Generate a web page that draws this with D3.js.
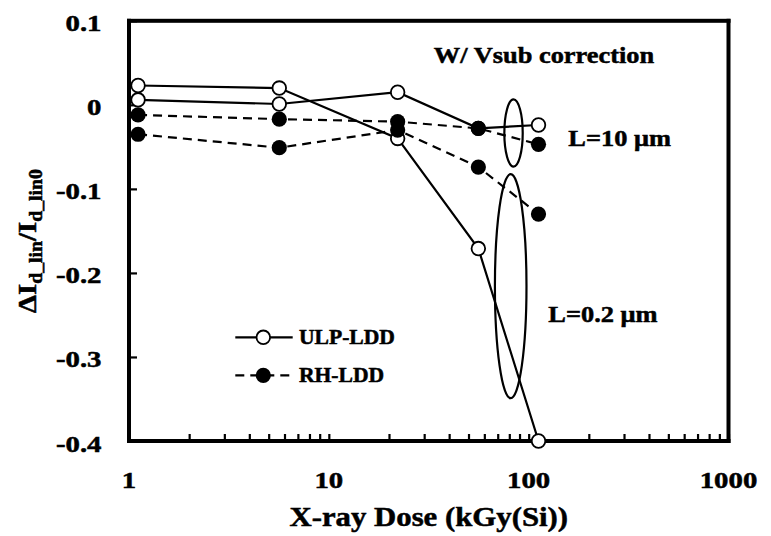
<!DOCTYPE html>
<html>
<head>
<meta charset="utf-8">
<script src="https://cdn.jsdelivr.net/npm/d3@7"></script>
<style>
  body { margin: 0; background: #fff; }
  svg { display: block; }
</style>
</head>
<body>
<svg id="chart" width="771" height="536"></svg>
<script>
// X-ray dose (kGy(Si)) at each measurement step
const doses = [1.11, 5.65, 22.1, 56, 112];

// ULP-LDD devices (open circles, solid lines)
const ulpShort = [0.023, 0.020, -0.040, -0.171, -0.400];   // L = 0.2 um
const ulpLong  = [0.006, 0.001, 0.015, -0.028, -0.024];    // L = 10 um

// RH-LDD devices (filled circles, dashed lines)
const rhLong  = [-0.012, -0.017, -0.020, -0.028, -0.047];  // L = 10 um
const rhShort = [-0.035, -0.051, -0.030, -0.074, -0.130];  // L = 0.2 um

// Axis ticks and labels
const xMajorTicks = [1, 10, 100, 1000];
const xTickLabels = ["1", "10", "100", "1000"];
const yTicks = [0.1, 0, -0.1, -0.2, -0.3, -0.4];
const yTickLabels = ["0.1", "0", "-0.1", "-0.2", "-0.3", "-0.4"];

// Ellipses grouping the last points by gate length (centre dose, centre value, half-extent)
const groupDose   = [84, 81.3];
const groupValue  = [-0.0335, -0.2158];
const groupHalfDecades = [0.046, 0.079];
const groupHalfValue   = [0.040, 0.1333];

const FONT = "'Liberation Serif', 'Times New Roman', Times, serif";

const svg = d3.select("#chart");

const x = d3.scaleLog().domain([1, 1000]).range([129, 728.5]);
const y = d3.scaleLinear().domain([-0.4, 0.1]).range([441, 20.8]);

// stretched bold serif text (slight outline for a heavier face)
function label(parent, px, py, str, size, sx, anchor) {
  return parent.append("text")
    .attr("transform", `translate(${px},${py}) scale(${sx},1)`)
    .attr("text-anchor", anchor)
    .attr("font-family", FONT)
    .attr("font-weight", "bold")
    .attr("font-size", size)
    .attr("fill", "#000")
    .attr("stroke", "#000")
    .attr("stroke-width", 0.5)
    .text(str);
}

// plot frame: four solid bars
const fw = 4;
const [fx0, fx1] = x.range();
const [fy1, fy0] = y.range();
const frame = svg.append("g").attr("fill", "#000");
frame.append("rect").attr("x", fx0 - fw / 2).attr("y", fy0 - fw / 2).attr("width", fx1 - fx0 + fw).attr("height", fw);
frame.append("rect").attr("x", fx0 - fw / 2).attr("y", fy1 - fw / 2).attr("width", fx1 - fx0 + fw).attr("height", fw);
frame.append("rect").attr("x", fx0 - fw / 2).attr("y", fy0 - fw / 2).attr("width", fw).attr("height", fy1 - fy0 + fw);
frame.append("rect").attr("x", fx1 - fw / 2).attr("y", fy0 - fw / 2).attr("width", fw).attr("height", fy1 - fy0 + fw);

// x ticks: decades plus minor ticks, pointing inward
const xTickVals = [];
[1, 10, 100].forEach(d => { for (let k = 1; k <= 9; k++) xTickVals.push(d * k); });
xTickVals.push(1000);
const xAxis = svg.append("g")
  .attr("transform", `translate(0,${y(-0.4)})`)
  .call(d3.axisBottom(x).tickValues(xTickVals).tickSizeInner(-7).tickSizeOuter(0).tickFormat(""));
xAxis.select(".domain").remove();
xAxis.selectAll(".tick line").attr("stroke", "#000").attr("stroke-width", 2.2);

const yAxis = svg.append("g")
  .attr("transform", `translate(${x(1)},0)`)
  .call(d3.axisLeft(y).tickValues(yTicks).tickSizeInner(-8).tickSizeOuter(0).tickFormat(""));
yAxis.select(".domain").remove();
yAxis.selectAll(".tick line").attr("stroke", "#000").attr("stroke-width", 2.2);

// tick labels
xMajorTicks.forEach((v, i) => label(svg, x(v), 488, xTickLabels[i], 24, 1.2, "middle"));
yTicks.forEach((v, i) => label(svg, 101.5, y(v) + 10.5, yTickLabels[i], 24, 1.2, "end"));

// axis titles
label(svg, x(Math.sqrt(1000)), 526, "X-ray Dose (kGy(Si))", 27, 1.14, "middle");

const yTitle = svg.append("text")
  .attr("transform", "translate(36,241) rotate(-90) scale(1.1,1)")
  .attr("text-anchor", "middle")
  .attr("font-family", FONT)
  .attr("font-weight", "bold")
  .attr("font-size", 26)
  .attr("fill", "#000")
  .attr("stroke", "#000")
  .attr("stroke-width", 0.5);
yTitle.append("tspan").text("\u0394I");
yTitle.append("tspan").attr("dy", 6).attr("font-size", 18).text("d_lin");
yTitle.append("tspan").attr("dy", -6).text("/I");
yTitle.append("tspan").attr("dy", 6).attr("font-size", 18).text("d_lin0");

// series lines
const line = d3.line().x(d => x(d[0])).y(d => y(d[1]));
const pairs = vals => doses.map((d, i) => [d, vals[i]]);

const openSeries = [ulpShort, ulpLong];
const filledSeries = [rhLong, rhShort];

openSeries.forEach(s => svg.append("path")
  .attr("d", line(pairs(s)))
  .attr("fill", "none").attr("stroke", "#000").attr("stroke-width", 2.2));
filledSeries.forEach(s => svg.append("path")
  .attr("d", line(pairs(s)))
  .attr("fill", "none").attr("stroke", "#000").attr("stroke-width", 2.2)
  .attr("stroke-dasharray", "9,6"));

// group ellipses
groupDose.forEach((d, i) => {
  const cx = x(d);
  const rx = x(d * Math.pow(10, groupHalfDecades[i])) - cx;
  const cy = y(groupValue[i]);
  const ry = y(groupValue[i] - groupHalfValue[i]) - cy;
  svg.append("ellipse")
    .attr("cx", cx).attr("cy", cy).attr("rx", rx).attr("ry", ry)
    .attr("fill", "none").attr("stroke", "#000").attr("stroke-width", 2.2);
});

// markers
openSeries.forEach(s => svg.append("g").selectAll("circle")
  .data(pairs(s)).join("circle")
  .attr("cx", d => x(d[0])).attr("cy", d => y(d[1])).attr("r", 6.8)
  .attr("fill", "#fff").attr("stroke", "#000").attr("stroke-width", 1.8));
filledSeries.forEach(s => svg.append("g").selectAll("circle")
  .data(pairs(s)).join("circle")
  .attr("cx", d => x(d[0])).attr("cy", d => y(d[1])).attr("r", 7.6)
  .attr("fill", "#000"));

// annotations
label(svg, 544, 63.3, "W/ Vsub correction", 24, 1.1, "middle");
label(svg, 568.3, 146, "L=10 \u03bcm", 24, 1.1, "start");
label(svg, 548.3, 321.7, "L=0.2 \u03bcm", 24, 1.1, "start");

// legend
const legY = [337.3, 375.3];
svg.append("line").attr("x1", 235.3).attr("x2", 292.7).attr("y1", legY[0]).attr("y2", legY[0])
  .attr("stroke", "#000").attr("stroke-width", 2.2);
svg.append("circle").attr("cx", 263.3).attr("cy", legY[0]).attr("r", 6.8)
  .attr("fill", "#fff").attr("stroke", "#000").attr("stroke-width", 1.8);
label(svg, 299, legY[0] + 6.7, "ULP-LDD", 20, 1.08, "start");

svg.append("line").attr("x1", 235.3).attr("x2", 290).attr("y1", legY[1]).attr("y2", legY[1])
  .attr("stroke", "#000").attr("stroke-width", 2.2).attr("stroke-dasharray", "9,6");
svg.append("circle").attr("cx", 263.3).attr("cy", legY[1]).attr("r", 7.6).attr("fill", "#000");
label(svg, 299, legY[1] + 6.7, "RH-LDD", 20, 1.08, "start");
</script>
</body>
</html>
